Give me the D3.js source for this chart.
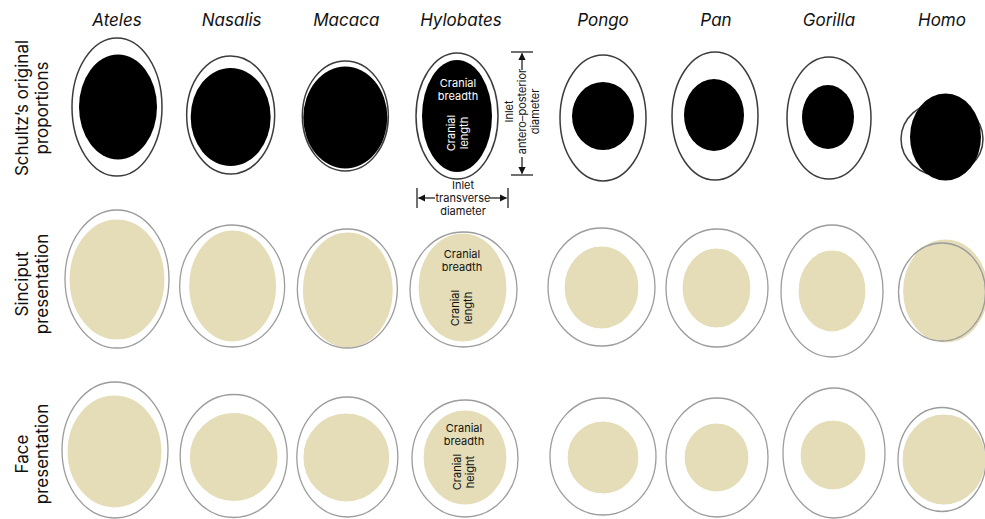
<!DOCTYPE html>
<html>
<head>
<meta charset="utf-8">
<script src="https://cdn.jsdelivr.net/npm/d3@7"></script>
<style>
  body { margin: 0; background: #fff; }
  svg { display: block; }
  text { font-family: Inter, "Noto Sans", "DejaVu Sans", sans-serif; }
</style>
</head>
<body>
<svg id="chart" width="985" height="519"></svg>
<script>
// Genera, in two groups: Old/New World monkeys + gibbon, then great apes + human
const monkeyGenera = ["Ateles", "Nasalis", "Macaca", "Hylobates"];
const apeGenera = ["Pongo", "Pan", "Gorilla", "Homo"];
const genera = monkeyGenera.concat(apeGenera);

const rowKeys = ["schultz", "sinciput", "face"];
const rowLabels = [
  ["Schultz’s original", "proportions"],
  ["Sinciput", "presentation"],
  ["Face", "presentation"]
];

// Schultz's original proportions: inlet (transverse, antero-posterior) and neonatal head
const schultzInletTr = [90, 88, 86, 82, 86, 86, 84, 82];
const schultzInletAP = [138, 118, 110, 126, 126, 128, 122, 74];
const schultzHeadBr = [78, 80, 84, 70, 62, 60, 52, 71];
const schultzHeadLen = [105, 98, 102, 112, 68, 72, 64, 87];
const schultzInletShift = [[0, -9], [-1, -1], [-1, 0], [-4, 0], [0, 2], [-1, 0], [0, 2], [0, 23]];
const schultzHeadShift = [[1, 0], [0, 2], [0, 1.5], [0, 0], [0, -2], [-1, -1], [-1, -1], [3.5, -2]];

// Sinciput presentation
const sinciputInletTr = [104, 105, 100, 107, 107, 102, 102, 87];
const sinciputInletAP = [138, 122, 119, 115, 118, 118, 132, 98];
const sinciputHeadBr = [96, 88, 91, 89, 75, 69, 68, 86];
const sinciputHeadLen = [121, 112, 116, 109, 83, 80, 82, 104];
const sinciputInletShift = [[0, -7], [0.5, 0], [1, 2.5], [2.5, 3.5], [-1.5, 1], [1, 2], [3, 5], [0, 6]];
const sinciputHeadShift = [[0, 0.5], [0.5, 0], [0.5, 1.5], [-1, -2], [0, 0.5], [-0.5, 0], [0, 0], [3.5, -1]];

// Face presentation
const faceInletTr = [106, 107, 101, 106, 106, 102, 102, 88];
const faceInletAP = [136, 123, 120, 117, 117, 119, 130, 104];
const faceHeadBr = [95, 89, 87, 84, 72, 65, 66, 84];
const faceHeadHt = [113, 89, 89, 95, 73, 69, 70, 91];
const faceInletShift = [[-2, -6], [2, 0], [1, 1], [4, 2.5], [0, 0.5], [1, 1.5], [5, -3], [0, 3.5]];
const faceHeadShift = [[-0.5, 1.5], [0, 1], [-1, 0.5], [0, -1], [0, 1], [-0.5, 0], [-1, 2], [2, 0]];

const rowData = [
  { key: "schultz", inletTr: schultzInletTr, inletAP: schultzInletAP, headBr: schultzHeadBr, headLen: schultzHeadLen, inletShift: schultzInletShift, headShift: schultzHeadShift },
  { key: "sinciput", inletTr: sinciputInletTr, inletAP: sinciputInletAP, headBr: sinciputHeadBr, headLen: sinciputHeadLen, inletShift: sinciputInletShift, headShift: sinciputHeadShift },
  { key: "face", inletTr: faceInletTr, inletAP: faceInletAP, headBr: faceHeadBr, headLen: faceHeadHt, inletShift: faceInletShift, headShift: faceHeadShift }
];

const svg = d3.select("#chart");

// Column positions: one point scale per group so the groups sit apart
const xMonkey = d3.scalePoint().domain(monkeyGenera).range([117, 461]);
const xApe = d3.scalePoint().domain(apeGenera).range([603, 942]);
const x = g => monkeyGenera.includes(g) ? xMonkey(g) : xApe(g);
const y = d3.scalePoint().domain(rowKeys).range([116, 456]);
// Diameters -> pixels
const size = d3.scaleLinear().domain([0, 100]).range([0, 100]);

const beige = "#e4ddb8";

// Column headers
svg.append("g").selectAll("text")
  .data(genera).join("text")
  .attr("x", d => x(d))
  .attr("y", 26)
  .attr("text-anchor", "middle")
  .attr("font-size", 17)
  .attr("font-style", "italic")
  .attr("fill", "#111")
  .text(d => d);

// Row labels
rowKeys.forEach((k, i) => {
  const cy = y(k) + (i === 0 ? -8 : -2);
  const t = svg.append("text")
    .attr("transform", `translate(22,${cy}) rotate(-90)`)
    .attr("text-anchor", "middle")
    .attr("font-size", 17)
    .attr("fill", "#111");
  rowLabels[i].forEach((line, j) => {
    t.append("tspan").attr("x", 0).attr("dy", j === 0 ? "0.35em" : "1.18em").text(line);
  });
});

// Ellipses
rowData.forEach(r => {
  const g = svg.append("g");
  const cells = genera.map((gen, i) => ({
    gen,
    ix: x(gen) + size(r.inletShift[i][0]),
    iy: y(r.key) + size(r.inletShift[i][1]),
    irx: size(r.inletTr[i]) / 2,
    iry: size(r.inletAP[i]) / 2,
    hdx: size(r.headShift[i][0]),
    hdy: size(r.headShift[i][1]),
    hrx: size(r.headBr[i]) / 2,
    hry: size(r.headLen[i]) / 2
  }));
  const drawInlet = (sel, fill, stroke, width) => sel.selectAll(null)
    .data(cells).join("ellipse")
    .attr("cx", d => d.ix).attr("cy", d => d.iy)
    .attr("rx", d => d.irx).attr("ry", d => d.iry)
    .attr("fill", fill).attr("stroke", stroke).attr("stroke-width", width);
  const drawHead = (sel, fill, stroke, width) => sel.selectAll(null)
    .data(cells).join("ellipse")
    .attr("cx", d => d.ix + d.hdx).attr("cy", d => d.iy + d.hdy)
    .attr("rx", d => d.hrx).attr("ry", d => d.hry)
    .attr("fill", fill).attr("stroke", stroke).attr("stroke-width", width);

  if (r.key === "schultz") {
    drawInlet(g.append("g"), "#fff", "#3c3c3c", 1.5);
    drawHead(g.append("g"), "#000", "none", 0);
  } else {
    drawHead(g.append("g"), beige, "#fff", 1.2);
    drawInlet(g.append("g"), "none", "#9c9c9c", 1.3);
  }
});

// Annotations on Hylobates
const hx = x("Hylobates");
const fs = 11;
function textBlock(parent, cx, cy, lines, color, rotate) {
  const t = parent.append("text")
    .attr("transform", `translate(${cx},${cy})` + (rotate ? " rotate(-90)" : ""))
    .attr("text-anchor", "middle")
    .attr("font-size", fs)
    .attr("fill", color);
  const n = lines.length;
  lines.forEach((l, j) => {
    t.append("tspan").attr("x", 0)
      .attr("dy", j === 0 ? `${0.35 - (n - 1) * 0.6}em` : "1.2em")
      .text(l);
  });
  return t;
}
const ann = svg.append("g");
// cranial dimensions inside the heads
textBlock(ann, hx - 3, y("schultz") - 26, ["Cranial", "breadth"], "#fff", false);
textBlock(ann, hx - 3, y("schultz") + 17, ["Cranial", "length"], "#fff", true);
textBlock(ann, hx + 1, y("sinciput") - 25, ["Cranial", "breadth"], "#111", false);
textBlock(ann, hx + 1, y("sinciput") + 22, ["Cranial", "length"], "#111", true);
textBlock(ann, hx + 3, y("face") -21, ["Cranial", "breadth"], "#111", false);
textBlock(ann, hx + 3, y("face") + 16, ["Cranial", "height"], "#111", true);

// Inlet diameter callouts
const defs = svg.append("defs");
defs.append("marker").attr("id", "arrow")
  .attr("viewBox", "0 0 10 10").attr("refX", 9).attr("refY", 5)
  .attr("markerWidth", 6).attr("markerHeight", 6).attr("orient", "auto")
  .append("path").attr("d", "M0,0 L10,5 L0,10 z").attr("fill", "#111");

const apX = hx + 61, apTop = y("schultz") - 64, apBot = y("schultz") + 59;
ann.append("line").attr("x1", apX - 11).attr("x2", apX + 11).attr("y1", apTop).attr("y2", apTop).attr("stroke", "#111").attr("stroke-width", 1.2);
ann.append("line").attr("x1", apX - 11).attr("x2", apX + 11).attr("y1", apBot).attr("y2", apBot).attr("stroke", "#111").attr("stroke-width", 1.2);
ann.append("line").attr("x1", apX).attr("x2", apX).attr("y1", apTop + 18).attr("y2", apTop + 1.5).attr("stroke", "#111").attr("stroke-width", 1.2).attr("marker-end", "url(#arrow)");
ann.append("line").attr("x1", apX).attr("x2", apX).attr("y1", apBot - 18).attr("y2", apBot - 1.5).attr("stroke", "#111").attr("stroke-width", 1.2).attr("marker-end", "url(#arrow)");
textBlock(ann, apX, (apTop + apBot) / 2 - 2, ["Inlet", "antero–posterior", "diameter"], "#111", true);

const trL = hx - 44, trR = hx + 47, trY = y("schultz") + 82;
ann.append("line").attr("x1", trL).attr("x2", trL).attr("y1", trY - 10).attr("y2", trY + 10).attr("stroke", "#111").attr("stroke-width", 1.2);
ann.append("line").attr("x1", trR).attr("x2", trR).attr("y1", trY - 10).attr("y2", trY + 10).attr("stroke", "#111").attr("stroke-width", 1.2);
ann.append("line").attr("x1", trL + 18).attr("x2", trL + 1.5).attr("y1", trY).attr("y2", trY).attr("stroke", "#111").attr("stroke-width", 1.2).attr("marker-end", "url(#arrow)");
ann.append("line").attr("x1", trR - 18).attr("x2", trR - 1.5).attr("y1", trY).attr("y2", trY).attr("stroke", "#111").attr("stroke-width", 1.2).attr("marker-end", "url(#arrow)");
textBlock(ann, hx + 2, trY, ["Inlet", "transverse", "diameter"], "#111", false);
</script>
</body>
</html>
